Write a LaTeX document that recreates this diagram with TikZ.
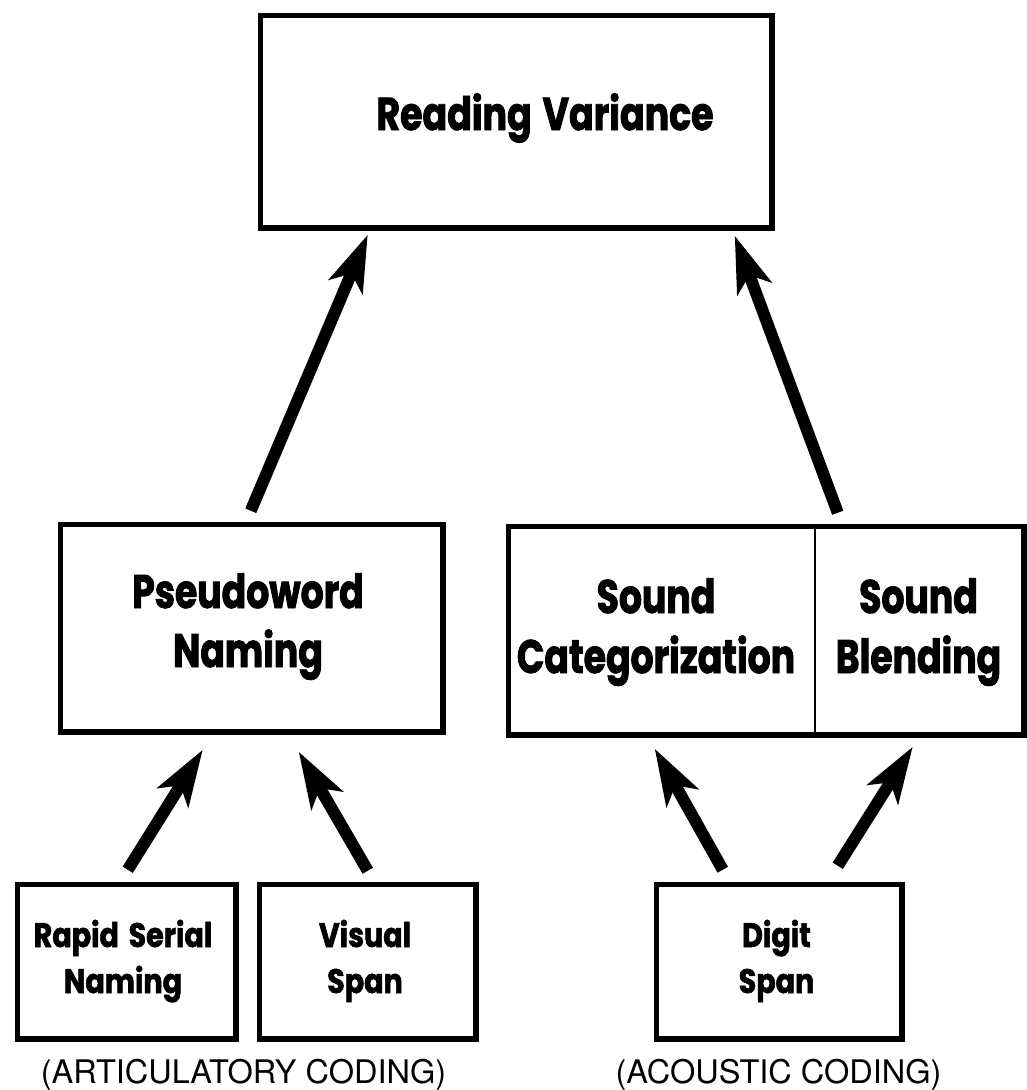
\documentclass[tikz,border=0pt]{standalone}
\usepackage{fontspec}
\usetikzlibrary{arrows.meta}
\newfontfamily\heavybig{Poppins}[FakeStretch=0.79,FakeBold=1.8,WordSpace=1.4]
\newfontfamily\heavymid{Poppins}[FakeStretch=0.77,FakeBold=1.8]
\newfontfamily\heavysmall{Poppins}[FakeStretch=0.84,FakeBold=1.6,WordSpace=1.6]
\newfontfamily\helv{TeX Gyre Heros}
\begin{document}
\begin{tikzpicture}[x=1pt,y=-1pt,
  box/.style={draw,line width=5.5pt,inner sep=0pt,anchor=north west},
  arr/.style={line width=12pt,-{Stealth[length=56pt,width=36pt,inset=14pt]}},
  big/.style={font=\heavybig\bfseries\fontsize{46}{46}\selectfont,anchor=base,inner sep=0pt},
  mid/.style={font=\heavymid\bfseries\fontsize{47}{47}\selectfont,anchor=base,inner sep=0pt},
  small/.style={font=\heavysmall\bfseries\fontsize{34}{34}\selectfont,anchor=base,inner sep=0pt},
  codelbl/.style={font=\helv\fontsize{32.5}{32.5}\selectfont,anchor=base,inner sep=0pt}]
\useasboundingbox (0,0) rectangle (1026,1090);
% boxes (outer sizes minus line width)
\node[box,minimum width=511.5pt,minimum height=212.5pt] (rv) at (257.75,12.75) {};
\node[box,minimum width=382.5pt,minimum height=207.5pt] (pw) at (57.75,521.75) {};
\node[box,minimum width=515.5pt,minimum height=208.5pt] (snd) at (505.75,523.75) {};
\node[box,minimum width=218.5pt,minimum height=154.5pt] (rsn) at (14.75,881.75) {};
\node[box,minimum width=216.5pt,minimum height=154.5pt] (vs) at (256.75,881.75) {};
\node[box,minimum width=245.5pt,minimum height=154.5pt] (ds) at (653.75,881.75) {};
\draw[line width=2.5pt] (snd.north -| 815,0) -- (snd.south -| 815,0);
% texts
\node[big] (t1) at (545,130) {Reading Variance};
\node[mid] (t2a) at (248,608) {Pseudoword};
\node[mid] (t2b) at (248,667) {Naming};
\node[mid] (t3a) at (656,613) {Sound};
\node[mid] (t3b) at (656,673) {Categorization};
\node[mid] (t4a) at (918.5,613) {Sound};
\node[mid] (t4b) at (918.5,673) {Blending};
\node[small] (t5a) at (123,947) {Rapid Serial};
\node[small] (t5b) at (123,993) {Naming};
\node[small] (t6a) at (365,947) {Visual};
\node[small] (t6b) at (365,993) {Span};
\node[small] (t7a) at (776.5,947) {Digit};
\node[small] (t7b) at (776.5,993) {Span};
\node[codelbl] (l1) at (243.5,1083) {(ARTICULATORY CODING)};
\node[codelbl] (l2) at (778.5,1083) {(ACOUSTIC CODING)};
% arrows
\draw[arr] ([xshift=-1pt,yshift=11pt]pw.north) -- ([xshift=-148.5pt,yshift=-4pt]rv.south);
\draw[arr] ([xshift=71.5pt,yshift=11pt]snd.north) -- ([xshift=218.5pt,yshift=-5pt]rv.south);
\draw[arr] ([xshift=1pt,yshift=12pt]rsn.north) -- ([xshift=-49pt,yshift=-15pt]pw.south);
\draw[arr] ([xshift=0pt,yshift=11pt]vs.north) -- ([xshift=47pt,yshift=-17pt]pw.south);
\draw[arr] ([xshift=-56.5pt,yshift=12pt]ds.north) -- ([xshift=-111.5pt,yshift=-11pt]snd.south);
\draw[arr] ([xshift=58.5pt,yshift=16pt]ds.north) -- ([xshift=146.5pt,yshift=-9pt]snd.south);
\end{tikzpicture}
\end{document}
